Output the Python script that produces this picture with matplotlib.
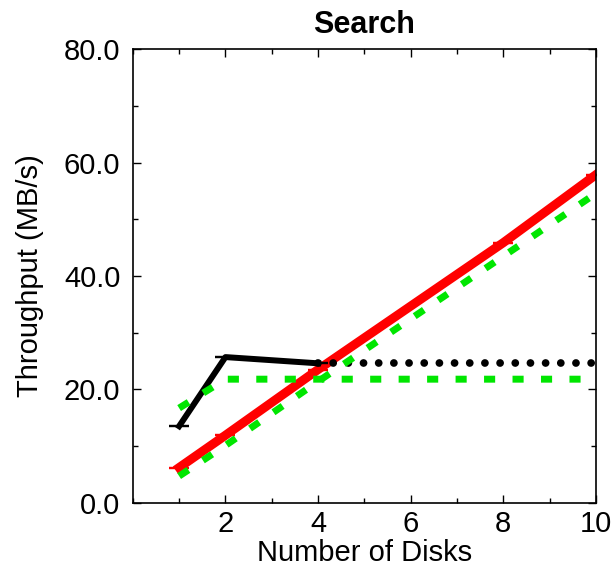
import matplotlib

matplotlib.use("Agg")

import matplotlib.pyplot as plt
from matplotlib.ticker import MultipleLocator, FormatStrFormatter

plt.rcParams["font.family"] = ["Liberation Sans", "DejaVu Sans"]

# measured throughput
disks = [1, 2, 4, 8, 10]
measured = [6.2, 11.9, 23.5, 45.9, 57.9]

# single-controller curve and its extrapolation
ctrl_disks = [1, 2, 4]
ctrl_tput = [13.5, 25.7, 24.6]
ctrl_ext_disks = [4, 10]
ctrl_ext_tput = [24.6, 24.6]

# model predictions
model_flat_disks = [1, 2, 4, 10]
model_flat = [16.7, 21.8, 21.8, 21.8]
model_linear = [4.7, 10.1, 21.4, 43.5, 54.6]

RED = "#ff0000"
GREEN = "#00e600"

fig = plt.figure(figsize=(6.16, 5.73), dpi=100)
ax = fig.add_axes([0.2156, 0.1227, 0.7519, 0.791])

ax.errorbar(disks, measured, yerr=[0] * len(disks), color=RED, lw=6.5,
            capsize=7.5, capthick=1.6, ecolor=RED, zorder=2)
ax.errorbar(ctrl_disks, ctrl_tput, yerr=[0] * len(ctrl_disks), color="black",
            lw=4.3, capsize=7.5, capthick=1.6, ecolor="black", zorder=3)
ax.plot(ctrl_ext_disks, ctrl_ext_tput, color="black", lw=5.6,
        linestyle=(0, (0.001, 1.95)), dash_capstyle="round", zorder=3)
ax.plot(model_flat_disks, model_flat, color=GREEN, lw=5,
        linestyle=(0, (1.6, 2.5)), dash_capstyle="butt", zorder=4)
ax.plot(disks, model_linear, color=GREEN, lw=5,
        linestyle=(0, (1.6, 2.5)), dash_capstyle="butt", zorder=4)

ax.set_xlim(0, 10)
ax.set_ylim(0, 80)
ax.xaxis.set_minor_locator(MultipleLocator(1))
ax.yaxis.set_major_locator(MultipleLocator(20))
ax.yaxis.set_minor_locator(MultipleLocator(10))
ax.yaxis.set_major_formatter(FormatStrFormatter("%.1f"))
ax.set_xticks([2, 4, 6, 8, 10])
ax.tick_params(which="both", direction="in", top=True, right=True,
               labelsize=21, width=1)
ax.tick_params(which="major", length=6)
ax.tick_params(which="minor", length=3.5)
ax.tick_params(axis="y", pad=9)
ax.tick_params(axis="x", pad=5)
for spine in ax.spines.values():
    spine.set_linewidth(1.2)

ax.set_xlabel("Number of Disks", fontsize=21, labelpad=1)
ax.set_ylabel("Throughput (MB/s)", fontsize=21, labelpad=14)
ax.set_title("Search", fontsize=22, fontweight="bold", pad=12)

fig.savefig("out.png", dpi=100)
